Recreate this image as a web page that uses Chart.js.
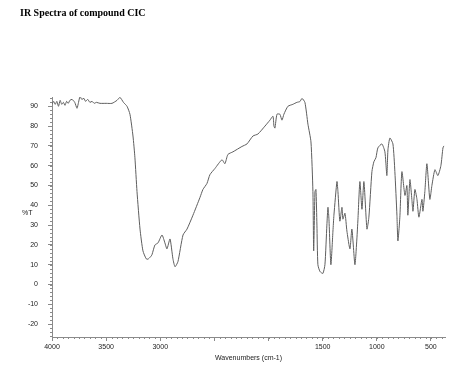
<!DOCTYPE html>
<html>
<head>
<meta charset="utf-8">
<script src="https://cdn.jsdelivr.net/npm/chart.js@4/dist/chart.umd.min.js"></script>
<style>
	html, body { margin: 0; padding: 0; background: #fff; }
	#wrap { position: relative; width: 468px; height: 367px; }
	#title { position: absolute; left: 20px; top: 7px; font: bold 10px "Liberation Serif", "Times New Roman", serif; color: #000; }
	#ylabel { position: absolute; left: 22px; top: 209px; font: 7px "Liberation Sans", Arial, sans-serif; color: #222; }
</style>
</head>
<body>
<div id="wrap">
	<canvas id="irChart" width="468" height="367"></canvas>
	<div id="title">IR Spectra of compound CIC</div>
	<div id="ylabel">%T</div>
</div>
<script>
// wavenumbers (cm-1) and transmittance (%T)
const wavenumbers = [
	4000, 3985, 3970, 3955, 3940, 3925, 3910, 3895, 3880, 3865, 3850, 3835, 3815, 3790, 3769, 3755,
	3741, 3725, 3705, 3690, 3670, 3650, 3630, 3610, 3590, 3557, 3500, 3446, 3400, 3372, 3340, 3307,
	3280, 3252, 3234, 3215, 3187, 3160, 3130, 3114, 3090, 3077, 3049, 3021, 2984, 2957, 2938, 2910,
	2883, 2864, 2837, 2790, 2753, 2698, 2633, 2606, 2569, 2541, 2495, 2430, 2403, 2375, 2329, 2246,
	2199, 2144, 2098, 2033, 1987, 1959, 1950, 1941, 1922, 1895, 1876, 1858, 1821, 1775, 1738, 1710,
	1691, 1664, 1636, 1608, 1590, 1583, 1571, 1562, 1553, 1544, 1525, 1498, 1479, 1461, 1451, 1442,
	1424, 1405, 1396, 1368, 1359, 1341, 1322, 1313, 1294, 1276, 1248, 1230, 1202, 1184, 1174, 1156,
	1137, 1119, 1091, 1073, 1045, 1027, 1008, 990, 953, 925, 907, 897, 879, 851, 833, 814,
	805, 787, 768, 740, 722, 713, 694, 676, 666, 648, 629, 611, 583, 574, 556, 537,
	510, 491, 463, 436, 408, 389, 380
];
const transmittance = [
	91, 92.5, 91, 92.5, 90, 93, 91, 92, 90.5, 92.5, 91.5, 93, 93.5, 92, 89, 92,
	95, 93.5, 94, 92.5, 93.5, 92, 92.5, 91.5, 92, 91.5, 91.5, 91.5, 93, 94.5, 92, 90,
	86, 75, 64, 47, 28, 17, 13, 12.8, 14, 15, 20, 21, 25, 21, 18, 23,
	13, 9, 11.5, 25, 28, 35, 44, 48, 51, 55.5, 58.6, 63, 61, 65.7, 67, 69.7,
	71, 75, 76, 80, 83, 85, 80, 79, 86, 86, 83, 86, 90, 91, 92, 92.4,
	94, 92, 81, 72, 47, 17, 47, 48, 30, 10, 6.6, 5.6, 10, 30, 39, 33,
	10, 27, 35, 52, 47, 32, 39, 33, 36, 27, 18, 28, 10, 23, 33, 52,
	38, 52, 28, 34, 57, 62, 64, 69, 71, 67, 55, 68, 74, 71, 57, 35,
	22, 34, 57, 45, 50, 35, 53, 43, 37, 48, 43, 34, 43, 37, 47, 61,
	43, 50, 58, 55, 60, 69, 70
];
const xTickValues = [4000, 3500, 3000, 2500, 2000, 1500, 1000, 500];
const xTickLabels = ["4000", "3500", "3000", "", "", "1500", "1000", "500"];
const yTickValues = [90, 80, 70, 60, 50, 40, 30, 20, 10, 0, -10, -20];

const points = wavenumbers.map((w, i) => ({ x: w, y: transmittance[i] }));
const axisColor = "#8a8a8a";
const tickFont = { family: "Liberation Sans", size: 7 };

// small in-between ticks, like the spectrometer printout
const minorTicks = {
	id: "minorTicks",
	afterDraw(chart) {
		const ctx = chart.ctx, x = chart.scales.x, y = chart.scales.y;
		ctx.save();
		ctx.strokeStyle = axisColor;
		ctx.lineWidth = 1;
		ctx.beginPath();
		for (let w = 4000; w >= x.min; w -= 50) {
			const px = Math.round(x.getPixelForValue(w)) + 0.5;
			ctx.moveTo(px, y.bottom);
			ctx.lineTo(px, y.bottom + 2);
		}
		for (let t = -26; t <= y.max; t += 2) {
			const py = Math.round(y.getPixelForValue(t)) + 0.5;
			ctx.moveTo(x.left, py);
			ctx.lineTo(x.left - 2, py);
		}
		ctx.stroke();
		ctx.restore();
	}
};

new Chart("irChart", {
	type: "scatter",
	data: {
		datasets: [{
			data: points,
			showLine: true,
			borderColor: "#5e5e5e",
			borderWidth: 1,
			pointRadius: 0,
			tension: 0.2,
			fill: false,
		}]
	},
	options: {
		responsive: false,
		animation: false,
		layout: { padding: { top: 97, right: 23, left: 0, bottom: 0 } },
		plugins: { legend: { display: false }, tooltip: { enabled: false } },
		scales: {
			x: {
				type: "linear",
				reverse: true,
				min: 370,
				max: 4000,
				afterBuildTicks: (scale) => { scale.ticks = xTickValues.map((v) => ({ value: v })); },
				afterFit: (scale) => { scale.height = 30; },
				ticks: {
					font: tickFont,
					color: "#222",
					padding: 2,
					maxRotation: 0,
					autoSkip: false,
					callback: (v) => xTickLabels[xTickValues.indexOf(v)] ?? "",
				},
				grid: { drawOnChartArea: false, tickLength: 4, color: axisColor },
				border: { color: axisColor },
				title: {
					display: true,
					text: "Wavenumbers (cm-1)",
					font: tickFont,
					color: "#222",
					padding: { top: 0, bottom: 5 },
				},
			},
			y: {
				min: -26.5,
				max: 94.7,
				afterBuildTicks: (scale) => { scale.ticks = yTickValues.map((v) => ({ value: v })); },
				afterFit: (scale) => { scale.width = 52; },
				ticks: { font: tickFont, color: "#222", padding: 10 },
				grid: { drawOnChartArea: false, tickLength: 4, color: axisColor },
				border: { color: axisColor },
			},
		},
	},
	plugins: [minorTicks],
});
</script>
</body>
</html>
